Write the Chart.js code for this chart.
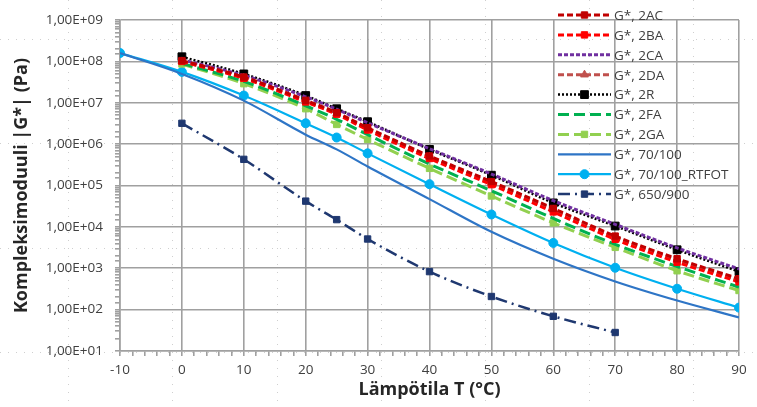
<!DOCTYPE html>
<html>
<head>
<meta charset="utf-8">
<script src="https://cdn.jsdelivr.net/npm/chart.js@4/dist/chart.umd.min.js"></script>
<style>
  html, body { margin: 0; background: #fff; }
  #wrap { width: 757px; height: 407px; }
</style>
</head>
<body>
<div id="wrap"><canvas id="modulusChart"></canvas></div>
<script>
// temperatures (°C)
const tempsMix = [0, 10, 20, 25, 30, 40, 50, 60, 70, 80, 90];
const tempsBinder = [-10, 0, 10, 20, 25, 30, 40, 50, 60, 70, 80, 90];
const temps650 = [0, 10, 20, 25, 30, 40, 50, 60, 70];

// |G*| values (Pa)
const g2AC = [1.05e8, 4.2e7, 1.15e7, 5.8e6, 2.5e6, 5.2e5, 1.25e5, 2.8e4, 6.0e3, 1.7e3, 560];
const g2BA = [1.0e8, 3.9e7, 1.05e7, 5.3e6, 2.2e6, 4.5e5, 1.05e5, 2.3e4, 5.0e3, 1.4e3, 470];
const g2CA = [1.1e8, 4.6e7, 1.4e7, 7.0e6, 3.3e6, 7.8e5, 1.9e5, 4.3e4, 1.15e4, 3.1e3, 960];
const g2DA = [1.0e8, 4.0e7, 1.1e7, 5.5e6, 2.4e6, 4.9e5, 1.15e5, 2.6e4, 5.6e3, 1.6e3, 520];
const g2R = [1.3e8, 5.0e7, 1.5e7, 7.2e6, 3.5e6, 7.5e5, 1.78e5, 3.8e4, 1.05e4, 2.8e3, 830];
const g2FA = [9.0e7, 3.3e7, 8.5e6, 4.0e6, 1.7e6, 3.3e5, 7.5e4, 1.6e4, 3.8e3, 1.1e3, 350];
const g2GA = [8.7e7, 2.9e7, 7.2e6, 3.0e6, 1.3e6, 2.6e5, 5.6e4, 1.25e4, 3.2e3, 870, 290];
const g70100 = [1.6e8, 5.0e7, 1.13e7, 1.7e6, 7.5e5, 2.9e5, 4.7e4, 7.6e3, 1.7e3, 480, 166, 65];
const g70100rtfot = [1.6e8, 5.6e7, 1.5e7, 3.2e6, 1.45e6, 6.0e5, 1.08e5, 2.0e4, 4.1e3, 1.03e3, 320, 112];
const g650900 = [3.2e6, 4.3e5, 4.2e4, 1.5e4, 5.1e3, 830, 208, 69, 28];

const seriesNames = ['G*, 2AC', 'G*, 2BA', 'G*, 2CA', 'G*, 2DA', 'G*, 2R', 'G*, 2FA', 'G*, 2GA',
  'G*, 70/100', 'G*, 70/100_RTFOT', 'G*, 650/900'];

const xTickLabels = [-10, 0, 10, 20, 30, 40, 50, 60, 70, 80, 90];

const toPoints = (xs, ys) => xs.map((x, i) => ({ x: x, y: ys[i] }));

const isDecade = v => Math.abs(Math.log10(v) - Math.round(Math.log10(v))) < 1e-9;

function series(label, xs, ys, color, dash, style, radius, width) {
  return {
    label: label,
    data: toPoints(xs, ys),
    showLine: true,
    borderColor: color,
    backgroundColor: color,
    borderDash: dash,
    borderWidth: width || 3,
    pointStyle: style || false,
    pointRadius: style ? radius : 0,
    pointBorderWidth: 1,
    cubicInterpolationMode: 'monotone',
    tension: 0.4
  };
}

const datasets = [
  series(seriesNames[0], tempsMix, g2AC, '#C00000', [6, 3], 'rect', 4.5),
  series(seriesNames[1], tempsMix, g2BA, '#FF0000', [6, 3], 'rect', 4.5),
  series(seriesNames[2], tempsMix, g2CA, '#7030A0', [4, 2], false, 0),
  series(seriesNames[3], tempsMix, g2DA, '#C0504D', [6, 3], 'triangle', 4.5),
  series(seriesNames[4], tempsMix, g2R, '#000000', [2, 2], 'rect', 5.5, 2.5),
  series(seriesNames[5], tempsMix, g2FA, '#00B050', [11, 5], false, 0),
  series(seriesNames[6], tempsMix, g2GA, '#92D050', [11, 5], 'rect', 4.5),
  series(seriesNames[7], tempsBinder, g70100, '#2E75C6', [], false, 0, 2.2),
  series(seriesNames[8], tempsBinder, g70100rtfot, '#00B0F0', [], 'circle', 4.5, 2.2),
  series(seriesNames[9], temps650, g650900, '#1F3870', [12, 5, 2, 5], 'rect', 4.5, 2.5)
];

// faint worksheet cell dots behind the chart
const sheetDots = {
  id: 'sheetDots',
  beforeDraw(chart) {
    const ctx = chart.ctx;
    ctx.save();
    ctx.strokeStyle = '#cfcfcf';
    ctx.lineWidth = 1;
    ctx.setLineDash([1, 7]);
    [39, 143, 248, 352].forEach(y => {
      ctx.beginPath(); ctx.moveTo(0, y + 0.5); ctx.lineTo(chart.width, y + 0.5); ctx.stroke();
    });
    [68, 172, 277, 381, 485, 589, 693].forEach(x => {
      ctx.beginPath(); ctx.moveTo(x + 0.5, 0); ctx.lineTo(x + 0.5, chart.height); ctx.stroke();
    });
    ctx.restore();
  }
};

// legend drawn inside the plot, top right, over the lines
const innerLegend = {
  id: 'innerLegend',
  afterDatasetsDraw(chart) {
    const ctx = chart.ctx;
    ctx.save();
    chart.data.datasets.forEach((ds, i) => {
      const y = 15 + i * 19.9;
      const x0 = 558, x1 = 611;
      ctx.strokeStyle = ds.borderColor;
      ctx.lineWidth = ds.borderWidth;
      ctx.setLineDash(ds.borderDash);
      ctx.beginPath();
      ctx.moveTo(x0, y);
      ctx.lineTo(x1, y);
      ctx.stroke();
      ctx.setLineDash([]);
      if (ds.pointStyle) {
        ctx.fillStyle = ds.backgroundColor;
        ctx.strokeStyle = ds.borderColor;
        ctx.lineWidth = 1;
        Chart.helpers.drawPoint(ctx, {
          pointStyle: ds.pointStyle, radius: ds.pointRadius, rotation: 0, borderWidth: 1
        }, (x0 + x1) / 2, y);
      }
      ctx.fillStyle = '#404040';
      ctx.font = '13.5px "Open Sans"';
      ctx.textBaseline = 'middle';
      ctx.fillText(ds.label, 614, y + 1);
    });
    ctx.restore();
  }
};

const gridGray = '#A0A0A0';

new Chart(document.getElementById('modulusChart'), {
  type: 'scatter',
  data: { datasets: datasets },
  options: {
    responsive: true,
    maintainAspectRatio: false,
    animation: false,
    layout: { padding: { top: 18, right: 18, left: 0, bottom: 0 } },
    plugins: {
      legend: { display: false },
      tooltip: { enabled: false }
    },
    scales: {
      x: {
        type: 'linear',
        min: -10,
        max: 90,
        afterFit: s => { s.height = 56; },
        ticks: {
          stepSize: 2,
          autoSkip: false,
          maxRotation: 0,
          color: '#404040',
          font: { family: 'Open Sans', size: 13.5 },
          padding: 6,
          callback: v => xTickLabels.includes(v) ? String(v) : ''
        },
        grid: {
          color: c => (c.tick && c.tick.value % 10 === 0) ? gridGray : 'rgba(0,0,0,0)',
          tickColor: gridGray,
          lineWidth: 1.6,
          tickLength: 5
        },
        border: { color: gridGray, width: 1.6 },
        title: {
          display: true,
          text: 'Lämpötila T (°C)',
          color: '#262626',
          font: { family: 'Open Sans', size: 18, weight: 'bold' },
          padding: { top: 0, bottom: 6 }
        }
      },
      y: {
        type: 'logarithmic',
        min: 10,
        max: 1e9,
        afterFit: s => { s.width = 120; },
        ticks: {
          autoSkip: false,
          color: '#404040',
          font: { family: 'Open Sans', size: 13.5 },
          padding: 12,
          callback: v => isDecade(v) ? '1,00E+' + String(Math.round(Math.log10(v))).padStart(2, '0') : ''
        },
        grid: {
          color: c => (c.tick && isDecade(c.tick.value)) ? gridGray : 'rgba(0,0,0,0)',
          tickColor: gridGray,
          lineWidth: 1.6,
          tickLength: 5
        },
        border: { color: gridGray, width: 1.6 },
        title: {
          display: true,
          text: 'Kompleksimoduuli |G*| (Pa)',
          color: '#262626',
          font: { family: 'Open Sans', size: 18, weight: 'bold' },
          padding: { top: 11, bottom: 0 }
        }
      }
    }
  },
  plugins: [sheetDots, innerLegend]
});
</script>
</body>
</html>
